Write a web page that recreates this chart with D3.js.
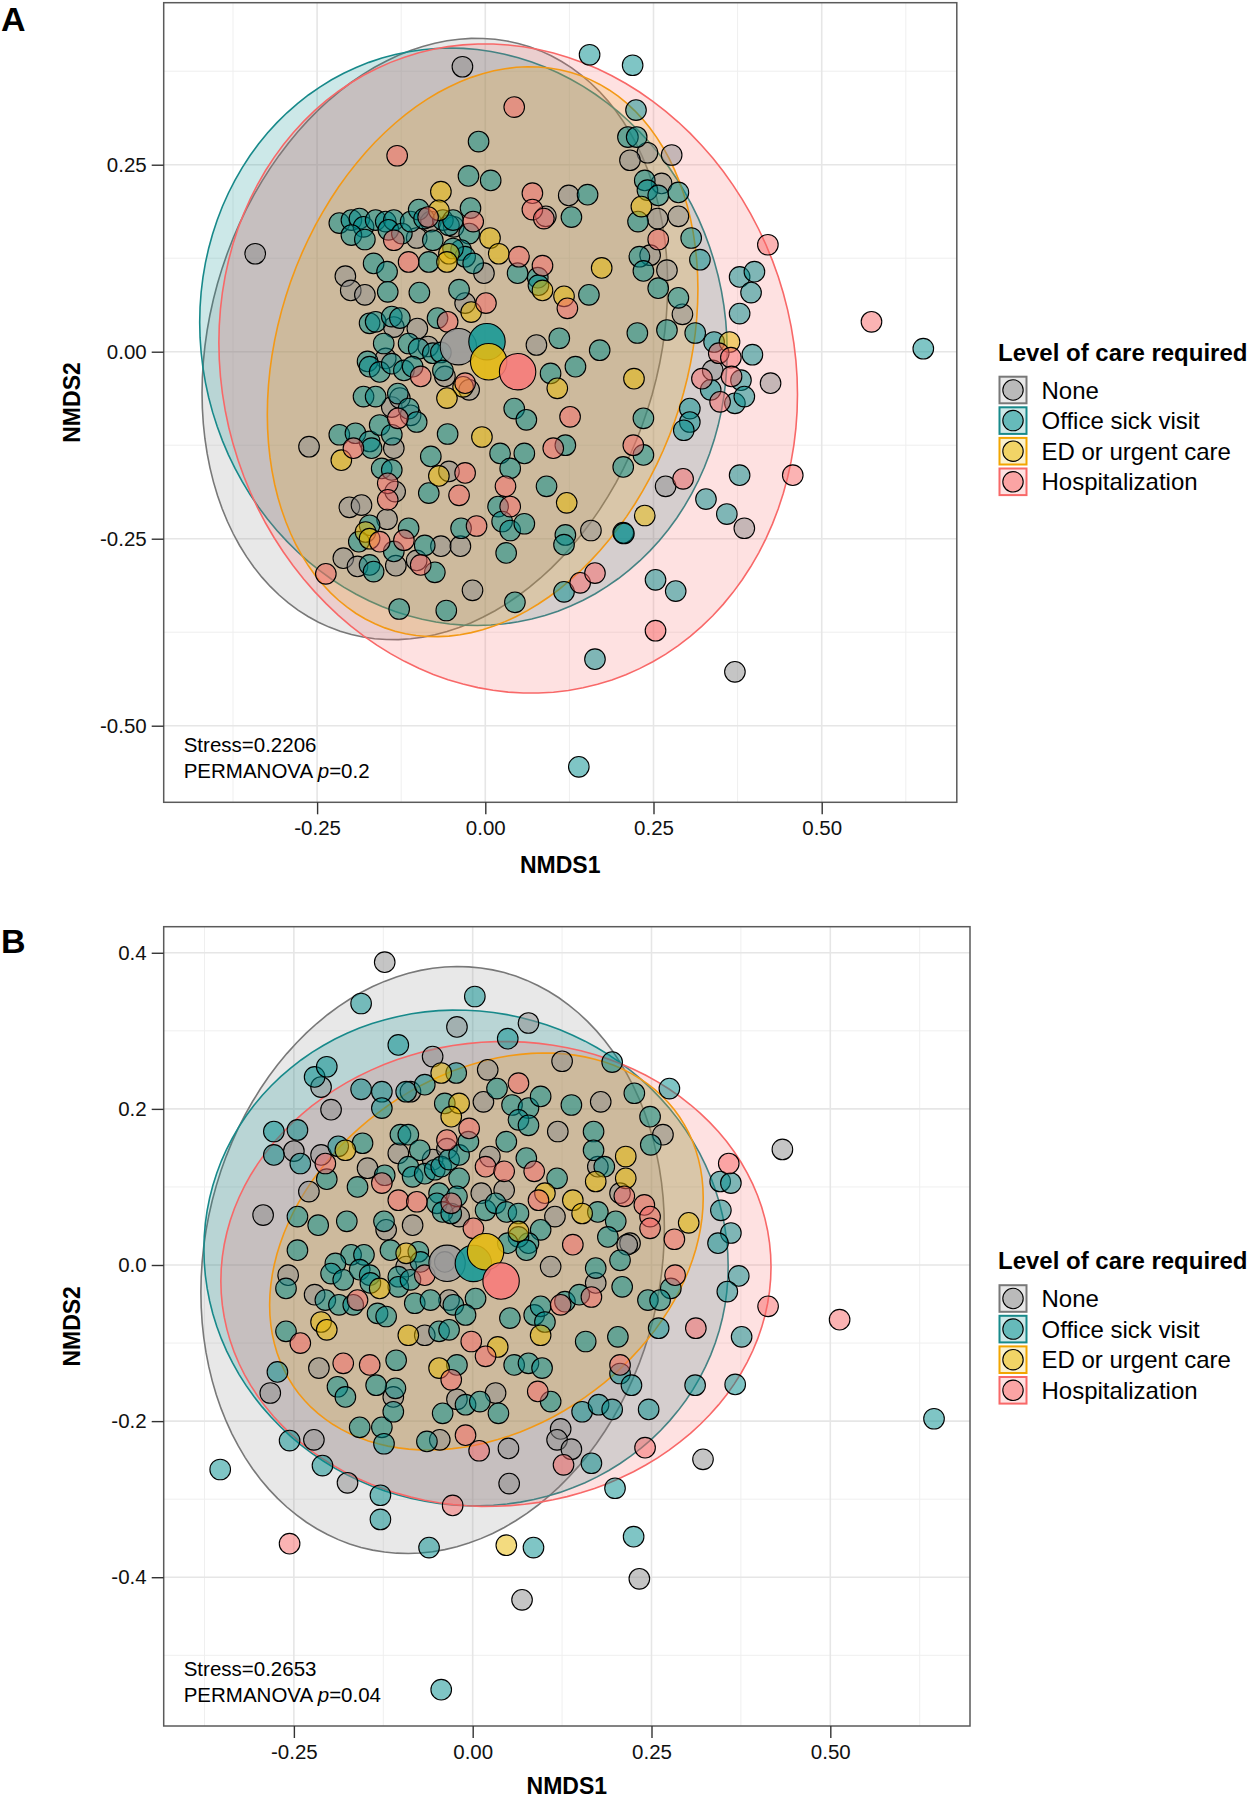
<!DOCTYPE html>
<html><head><meta charset="utf-8">
<script src="https://cdn.jsdelivr.net/npm/d3@7"></script>
<style>body{margin:0;background:#fff}svg{display:block}text{font-family:"Liberation Sans",Arial,Helvetica,sans-serif}</style>
</head><body><svg id="c" width="1254" height="1800"></svg>
<script>
// ---------- DATA ----------
const categories = ["None", "Office sick visit", "ED or urgent care", "Hospitalization"];
const legendTitle = "Level of care required";
const xTicks = [-0.25, 0, 0.25, 0.5];
const xTickLabels = ["-0.25", "0.00", "0.25", "0.50"];
const yTicksA = [-0.5, -0.25, 0, 0.25];
const yTickLabelsA = ["-0.50", "-0.25", "0.00", "0.25"];
const yTicksB = [-0.4, -0.2, 0, 0.2, 0.4];
const yTickLabelsB = ["-0.4", "-0.2", "0.0", "0.2", "0.4"];
const statsA = ["Stress=0.2206", "0.2"];
const statsB = ["Stress=0.2653", "0.04"];

// Panel A points [NMDS1, NMDS2]
const noneA = [[-0.034,0.381],[-0.342,0.131],[0.124,0.209],[0.090,0.181],[-0.102,0.152],[-0.081,0.174],[-0.047,0.167],[-0.002,0.105],[-0.208,0.101],[-0.200,0.082],[-0.179,0.076],[-0.030,0.065],[-0.136,0.033],[-0.101,0.031],[-0.148,-0.009],[-0.085,0.007],[-0.060,-0.033],[-0.024,-0.051],[0.076,0.009],[-0.139,-0.074],[-0.111,-0.085],[-0.127,-0.062],
[-0.262,-0.127],[-0.136,-0.129],[-0.054,-0.160],[-0.134,-0.187],[-0.202,-0.208],[-0.184,-0.205],[-0.146,-0.224],[-0.066,-0.260],[-0.037,-0.260],[0.157,-0.239],[-0.211,-0.276],[-0.190,-0.287],[-0.133,-0.286],[-0.102,-0.279],[-0.019,-0.319],
[0.241,0.266],[0.215,0.256],[0.277,0.263],[0.262,0.225],[0.256,0.178],[0.287,0.181],[0.245,0.129],[0.270,0.109],[0.293,0.050],[0.338,-0.025],[0.424,-0.042],[0.268,-0.180],[0.385,-0.236],[0.371,-0.428]];
const officeA = [[0.155,0.397],[0.219,0.383],[-0.010,0.281],[-0.025,0.235],[0.008,0.229],[0.152,0.210],[0.128,0.180],
[-0.217,0.172],[-0.199,0.176],[-0.187,0.178],[-0.181,0.167],[-0.199,0.156],[-0.179,0.150],[-0.163,0.176],[-0.148,0.174],[-0.136,0.176],[-0.144,0.163],[-0.124,0.158],[-0.111,0.174],[-0.099,0.190],[-0.091,0.178],[-0.063,0.176],[-0.054,0.169],[-0.048,0.176],[-0.022,0.192],[-0.024,0.158],[-0.078,0.149],[-0.036,0.136],[-0.030,0.127],[-0.048,0.138],[-0.084,0.120],[-0.018,0.118],[-0.166,0.118],[-0.146,0.107],[0.048,0.105],[0.078,0.099],[0.079,0.089],[-0.145,0.080],[-0.098,0.079],[-0.039,0.083],[0.154,0.076],[-0.172,0.038],[-0.163,0.040],[-0.139,0.047],[-0.127,0.045],[-0.071,0.045],[-0.151,0.011],[-0.114,0.011],[-0.099,0.004],[-0.078,-0.002],[-0.066,-0.001],[-0.175,-0.013],[-0.172,-0.020],[-0.157,-0.027],[-0.139,-0.016],[-0.121,-0.025],[-0.108,-0.020],[-0.063,-0.025],[0.110,0.018],[0.170,0.002],[0.134,-0.020],[0.097,-0.029],[-0.181,-0.060],[-0.163,-0.060],[-0.130,-0.056],[-0.114,-0.076],[-0.102,-0.094],[0.043,-0.076],[0.061,-0.091],
[-0.217,-0.111],[-0.193,-0.109],[-0.172,-0.120],[-0.169,-0.129],[-0.157,-0.098],[-0.139,-0.111],[-0.056,-0.110],[0.022,-0.136],[0.058,-0.136],[0.119,-0.125],[-0.081,-0.140],[-0.154,-0.156],[-0.139,-0.158],[-0.084,-0.189],[0.037,-0.156],[0.091,-0.180],[0.019,-0.207],[0.025,-0.227],[0.037,-0.239],[0.058,-0.230],[-0.036,-0.236],[-0.172,-0.232],[-0.188,-0.254],[-0.114,-0.236],[-0.090,-0.259],[0.031,-0.269],[0.119,-0.245],[0.117,-0.258],[0.205,-0.242],[-0.172,-0.285],[-0.166,-0.294],[-0.136,-0.267],[-0.075,-0.295],[0.044,-0.335],[0.117,-0.321],[-0.128,-0.344],[-0.058,-0.346],[0.163,-0.411],[0.139,-0.555],
[0.224,0.323],[0.212,0.287],[0.225,0.287],[0.237,0.229],[0.241,0.216],[0.257,0.209],[0.287,0.213],[0.227,0.174],[0.306,0.152],[0.319,0.123],[0.229,0.127],[0.235,0.108],[0.257,0.085],[0.287,0.072],[0.378,0.100],[0.400,0.107],[0.395,0.079],[0.378,0.051],[0.651,0.004],[0.226,0.025],[0.270,0.029],[0.312,0.025],[0.340,0.013],[0.397,-0.004],[0.380,-0.038],[0.335,-0.051],[0.371,-0.069],[0.385,-0.060],[0.235,-0.089],[0.304,-0.076],[0.304,-0.094],[0.295,-0.105],[0.235,-0.138],[0.205,-0.154],[0.378,-0.165],[0.328,-0.197],[0.206,-0.243],[0.359,-0.217],[0.253,-0.305],[0.283,-0.320]];
const edA = [[-0.066,0.214],[-0.069,0.189],[0.007,0.152],[0.020,0.131],[-0.054,0.131],[-0.057,0.120],[0.085,0.082],[0.173,0.112],[-0.021,0.053],[0.117,0.074],[-0.033,-0.047],[-0.057,-0.062],[0.107,-0.049],
[-0.214,-0.145],[-0.005,-0.114],[-0.069,-0.166],[0.121,-0.202],[-0.178,-0.241],[-0.172,-0.250],
[0.232,0.194],[0.363,0.013],[0.221,-0.036],[0.237,-0.219]];
const hospA = [[0.043,0.327],[-0.131,0.262],[0.070,0.212],[0.070,0.190],[0.087,0.178],[-0.136,0.149],[-0.085,0.180],[-0.018,0.174],[-0.114,0.120],[0.050,0.127],[0.085,0.115],[0.001,0.065],[0.122,0.058],[-0.056,0.040],[-0.096,-0.033],[-0.030,-0.042],[-0.130,-0.089],[0.126,-0.087],
[-0.196,-0.129],[-0.030,-0.162],[0.101,-0.129],[-0.145,-0.176],[-0.039,-0.192],[0.030,-0.180],[0.037,-0.207],[-0.145,-0.198],[-0.157,-0.254],[-0.121,-0.252],[-0.013,-0.233],[-0.096,-0.285],[-0.237,-0.297],[0.141,-0.309],[0.163,-0.296],
[0.257,0.150],[0.420,0.143],[0.574,0.040],[0.347,-0.002],[0.365,-0.008],[0.322,-0.036],[0.366,-0.033],[0.349,-0.067],[0.220,-0.125],[0.294,-0.170],[0.457,-0.165],[0.253,-0.373]];
const centroidsA = [[-0.040,0.0067],[0.0025,0.0134],[0.005,-0.0134],[0.048,-0.0267]];
// ellipse summaries: [centre x, centre y, half-width, half-height, correlation]
const ellipsesA = [[-0.075,0.017,0.346,0.402,0.18],[-0.0325,0.020,0.392,0.386,-0.05],[-0.004,0.000,0.320,0.381,0.22],[0.034,-0.0225,0.430,0.434,-0.08]];

// Panel B points
const noneB = [[-0.123,0.388],[-0.022,0.305],[0.078,0.310],[-0.056,0.267],[0.021,0.250],[0.125,0.261],[-0.212,0.228],[-0.087,0.222],[0.015,0.209],[0.179,0.209],[-0.198,0.199],[0.119,0.171],[-0.250,0.146],[-0.212,0.141],[-0.229,0.094],[-0.293,0.064],[-0.147,0.124],[-0.104,0.143],[-0.056,0.135],[-0.036,0.149],[0.024,0.139],[0.012,0.092],[0.044,0.096],[0.175,0.126],[0.206,0.092],[-0.121,0.045],[-0.084,0.051],[-0.019,0.062],[0.115,0.062],[0.220,0.028],[-0.039,0.004],[-0.093,-0.002],[-0.258,-0.013],[-0.221,-0.038],[0.109,-0.002],[0.172,-0.023],[-0.033,-0.045],[-0.067,-0.090],
[0.266,0.167],[0.433,0.148],[0.216,0.026],
[-0.283,-0.164],[-0.222,-0.224],[-0.175,-0.279],[-0.046,-0.224],[-0.111,-0.169],[0.032,-0.164],[0.050,-0.235],[0.051,-0.280],[0.123,-0.210],[0.118,-0.224],[0.138,-0.236],[-0.022,-0.172],[0.069,-0.429],[-0.215,-0.132],
[0.322,-0.249],[0.233,-0.402]];
const officeB = [[-0.156,0.335],[0.003,0.344],[-0.104,0.282],[0.049,0.290],[0.195,0.260],[-0.221,0.241],[-0.204,0.254],[-0.156,0.225],[-0.127,0.222],[-0.093,0.222],[-0.127,0.201],[-0.067,0.231],[-0.023,0.246],[-0.039,0.207],[0.034,0.226],[0.055,0.205],[0.078,0.201],[0.095,0.216],[0.064,0.186],[0.078,0.179],[0.138,0.205],[0.226,0.220],[-0.278,0.171],[-0.245,0.173],[-0.278,0.141],[-0.241,0.130],[-0.188,0.152],[-0.154,0.156],[-0.204,0.110],[-0.161,0.100],[-0.123,0.115],[-0.101,0.167],[-0.090,0.167],[-0.074,0.147],[-0.090,0.126],[-0.084,0.113],[-0.067,0.117],[-0.053,0.122],[-0.044,0.126],[-0.033,0.135],[-0.019,0.141],[-0.006,0.158],[-0.019,0.111],[0.047,0.158],[0.075,0.137],[0.118,0.111],[0.169,0.171],[0.169,0.147],[0.184,0.126],[-0.047,0.092],[-0.050,0.079],[-0.042,0.068],[-0.030,0.066],[-0.022,0.088],[0.018,0.070],[0.032,0.079],[0.047,0.068],[0.064,0.066],[0.095,0.045],[0.078,0.028],[0.064,0.036],[0.049,0.028],[0.075,0.019],[0.175,0.068],[0.200,0.056],[0.189,0.036],[-0.245,0.062],[-0.216,0.051],[-0.176,0.056],[-0.124,0.056],[-0.245,0.019],[-0.170,0.013],[-0.152,0.013],[-0.192,0.002],[-0.198,-0.011],[-0.181,-0.019],[-0.158,-0.006],[-0.144,-0.013],[-0.143,-0.023],[-0.115,0.019],[-0.076,0.017],[-0.073,0.004],[-0.104,-0.015],[-0.104,-0.028],[-0.087,-0.019],[-0.261,-0.030],[-0.206,-0.045],[-0.187,-0.051],[-0.167,-0.051],[-0.133,-0.062],[-0.121,-0.066],[-0.081,-0.049],[-0.059,-0.045],[-0.027,-0.051],[0.004,-0.043],[-0.010,-0.064],[0.052,-0.068],[0.086,-0.064],[0.095,-0.053],[0.101,-0.073],[0.129,-0.047],[0.149,-0.038],[0.172,-0.004],[0.206,0.006],[0.209,-0.028],[0.203,-0.092],[0.158,-0.098],[-0.261,-0.085],[-0.047,-0.085],[-0.033,-0.083],
[0.275,0.226],[0.248,0.190],[0.249,0.154],[0.346,0.107],[0.361,0.105],[0.347,0.070],[0.361,0.041],[0.343,0.028],[0.372,-0.014],[0.356,-0.034],[0.277,-0.030],[0.245,-0.045],[0.262,-0.045],[0.260,-0.081],[0.376,-0.092],
[-0.353,-0.262],[-0.256,-0.225],[-0.210,-0.257],[-0.129,-0.295],[-0.129,-0.326],[-0.061,-0.362],[0.085,-0.362],[-0.044,-0.544],[0.199,-0.286],[0.225,-0.348],[-0.158,-0.208],[-0.127,-0.208],[-0.124,-0.229],[-0.064,-0.226],[-0.042,-0.190],[-0.010,-0.179],[0.010,-0.175],[0.036,-0.190],[0.109,-0.175],[0.153,-0.188],[0.176,-0.179],[0.195,-0.185],[0.166,-0.254],[-0.273,-0.137],[-0.189,-0.156],[-0.178,-0.169],[-0.108,-0.158],[-0.111,-0.188],[-0.135,-0.154],[0.058,-0.128],[0.078,-0.126],[0.097,-0.132],[-0.022,-0.128],[-0.107,-0.122],[0.206,-0.139],
[0.311,-0.154],[0.367,-0.153],[0.246,-0.185],[0.222,-0.154],[0.645,-0.197]];
const edB = [[-0.044,0.246],[-0.019,0.207],[-0.030,0.190],[-0.178,0.147],[0.214,0.139],[0.214,0.111],[0.172,0.107],[0.101,0.092],[0.140,0.083],[0.153,0.066],[0.064,0.043],[-0.093,0.015],[-0.130,-0.030],[-0.212,-0.073],[-0.204,-0.083],[-0.090,-0.090],[0.095,-0.090],[0.035,-0.105],
[0.302,0.054],[0.047,-0.359],[-0.047,-0.132]];
const hospB = [[0.064,0.233],[-0.005,0.175],[-0.036,0.160],[-0.206,0.130],[-0.127,0.105],[-0.104,0.083],[-0.078,0.081],[0.018,0.126],[0.044,0.120],[0.086,0.120],[-0.030,0.079],[0.001,0.047],[0.092,0.083],[0.212,0.088],[0.140,0.026],[-0.067,-0.013],[-0.161,-0.045],[0.123,-0.051],[0.166,-0.041],[-0.241,-0.100],[-0.002,-0.098],
[0.358,0.130],[0.240,0.077],[0.248,0.062],[0.248,0.047],[0.282,0.033],[0.283,-0.013],[0.413,-0.053],[0.513,-0.070],[0.312,-0.081],
[-0.256,-0.357],[-0.028,-0.308],[0.009,-0.238],[-0.010,-0.218],[0.127,-0.256],[0.091,-0.162],[-0.030,-0.147],[-0.144,-0.128],[-0.181,-0.126],[0.206,-0.128],[0.018,-0.117],[0.241,-0.234]];
const centroidsB = [[-0.0358,0.0022],[0.001,0.002],[0.018,0.017],[0.0397,-0.0205]];
const ellipsesB = [[-0.056,0.0064,0.324,0.376,0.11],[-0.0093,0.009,0.3665,0.3176,-0.035],[0.0192,0.0173,0.3031,0.2543,0.27],[0.0325,-0.0115,0.3846,0.2978,0.03]];

// ---------- STYLE ----------
const pointFill = ["#8c8c8c", "#008B8B", "#E7B800", "#F86868"];
const lineCol = ["#787878", "#17898a", "#F2A500", "#F86868"];
const centroidFill = ["#9a9a9a", "#149896", "#E5BA10", "#F87A7A"];
const FONT = '"Liberation Sans", Arial, Helvetica, sans-serif';

const svg = d3.select("#c");

function drawPanel(cfg) {
  const x = d3.scaleLinear().domain(cfg.xDomain).range([cfg.left, cfg.right]);
  const y = d3.scaleLinear().domain(cfg.yDomain).range([cfg.bottom, cfg.top]);
  const g = svg.append("g");

  // grid
  const xs = cfg.xTicks, ys = cfg.yTicks;
  const dx = xs[1] - xs[0], dy = ys[1] - ys[0];
  const minorX = [xs[0] - dx / 2, ...xs.map(v => v + dx / 2)].filter(v => v > cfg.xDomain[0] && v < cfg.xDomain[1]);
  const minorY = [ys[0] - dy / 2, ...ys.map(v => v + dy / 2)].filter(v => v > cfg.yDomain[0] && v < cfg.yDomain[1]);
  g.selectAll(".mx").data(minorX).join("line").attr("x1", d => x(d)).attr("x2", d => x(d)).attr("y1", cfg.top).attr("y2", cfg.bottom).attr("stroke", "#efefef").attr("stroke-width", 1);
  g.selectAll(".my").data(minorY).join("line").attr("y1", d => y(d)).attr("y2", d => y(d)).attr("x1", cfg.left).attr("x2", cfg.right).attr("stroke", "#efefef").attr("stroke-width", 1);
  g.selectAll(".gx").data(xs).join("line").attr("x1", d => x(d)).attr("x2", d => x(d)).attr("y1", cfg.top).attr("y2", cfg.bottom).attr("stroke", "#e6e6e6").attr("stroke-width", 1.6);
  g.selectAll(".gy").data(ys).join("line").attr("y1", d => y(d)).attr("y2", d => y(d)).attr("x1", cfg.left).attr("x2", cfg.right).attr("stroke", "#e6e6e6").attr("stroke-width", 1.6);

  // ellipses
  const line = d3.line().x(d => x(d[0])).y(d => y(d[1])).curve(d3.curveLinearClosed);
  const angles = d3.range(0, 2 * Math.PI, Math.PI / 60);
  cfg.ellipses.forEach((e, i) => {
    const [cx, cy, hx, hy, r] = e;
    const pts = angles.map(t => [cx + hx * Math.cos(t), cy + hy * (r * Math.cos(t) + Math.sqrt(1 - r * r) * Math.sin(t))]);
    g.append("path").attr("d", line(pts)).attr("fill", pointFill[i]).attr("fill-opacity", 0.2)
      .attr("stroke", lineCol[i]).attr("stroke-width", 1.6);
  });

  // points
  cfg.points.forEach((arr, i) => {
    g.append("g").selectAll("circle").data(arr).join("circle")
      .attr("cx", d => x(d[0])).attr("cy", d => y(d[1])).attr("r", 10.3)
      .attr("fill", pointFill[i]).attr("fill-opacity", 0.5)
      .attr("stroke", "#000").attr("stroke-width", 1.1);
  });

  // centroids
  g.append("g").selectAll("circle").data(cfg.centroids).join("circle")
    .attr("cx", d => x(d[0])).attr("cy", d => y(d[1])).attr("r", 18.2)
    .attr("fill", (d, i) => centroidFill[i]).attr("fill-opacity", 0.88)
    .attr("stroke", "#000").attr("stroke-width", 1.1);

  // border
  g.append("rect").attr("x", cfg.left).attr("y", cfg.top).attr("width", cfg.right - cfg.left).attr("height", cfg.bottom - cfg.top)
    .attr("fill", "none").attr("stroke", "#5a5a5a").attr("stroke-width", 1.5);

  // axes
  const ax = g.append("g").attr("transform", `translate(0,${cfg.bottom})`)
    .call(d3.axisBottom(x).tickValues(xs).tickFormat((d, i) => cfg.xLabels[i]).tickSize(12).tickPadding(6));
  const ay = g.append("g").attr("transform", `translate(${cfg.left},0)`)
    .call(d3.axisLeft(y).tickValues(ys).tickFormat((d, i) => cfg.yLabels[i]).tickSize(12).tickPadding(5));
  [ax, ay].forEach(a => {
    a.select(".domain").remove();
    a.selectAll(".tick line").attr("stroke", "#333").attr("stroke-width", 1.4);
    a.selectAll(".tick text").attr("font-size", 20.5).attr("fill", "#111").attr("font-family", FONT);
  });

  // axis titles
  g.append("text").attr("x", (cfg.left + cfg.right) / 2).attr("y", cfg.xTitleY).attr("text-anchor", "middle")
    .attr("font-size", 23).attr("font-weight", "bold").text("NMDS1");
  g.append("text").attr("transform", `translate(80,${(cfg.top + cfg.bottom) / 2}) rotate(-90)`).attr("text-anchor", "middle")
    .attr("font-size", 23).attr("font-weight", "bold").text("NMDS2");

  // panel letter
  g.append("text").attr("x", 1).attr("y", cfg.letterY).attr("font-size", 34).attr("font-weight", "bold").text(cfg.letter);

  // stats text
  g.append("text").attr("x", cfg.left + 20).attr("y", cfg.statsY).attr("font-size", 20.5).text(cfg.stats[0]);
  const t2 = g.append("text").attr("x", cfg.left + 20).attr("y", cfg.statsY + 26).attr("font-size", 20.5);
  t2.append("tspan").text("PERMANOVA ");
  t2.append("tspan").attr("font-style", "italic").text("p");
  t2.append("tspan").text("=" + cfg.stats[1]);

  // legend
  const lg = g.append("g");
  lg.append("text").attr("x", 998).attr("y", cfg.legendY).attr("font-size", 24).attr("font-weight", "bold").text(legendTitle);
  categories.forEach((c, i) => {
    const cy = cfg.legendY + 29.5 + i * 30.6;
    lg.append("rect").attr("x", 999.5).attr("y", cy - 13.3).attr("width", 27).attr("height", 26.6)
      .attr("fill", pointFill[i]).attr("fill-opacity", 0.2).attr("stroke", lineCol[i]).attr("stroke-width", 2);
    lg.append("circle").attr("cx", 1013).attr("cy", cy).attr("r", 10.2)
      .attr("fill", pointFill[i]).attr("fill-opacity", 0.5).attr("stroke", "#000").attr("stroke-width", 1.1);
    lg.append("text").attr("x", 1041.5).attr("y", cy + 8.5).attr("font-size", 24).text(c);
  });
}

drawPanel({
  letter: "A", letterY: 31,
  left: 163.7, right: 956.8, top: 2.7, bottom: 802.3,
  xDomain: [-0.478, 0.7008], yDomain: [-0.6024, 0.4666],
  xTicks: xTicks, xLabels: xTickLabels, yTicks: yTicksA, yLabels: yTickLabelsA,
  ellipses: ellipsesA, points: [noneA, officeA, edA, hospA], centroids: centroidsA,
  xTitleY: 873, statsY: 752, stats: statsA, legendY: 360.5
});
drawPanel({
  letter: "B", letterY: 953,
  left: 163.7, right: 970, top: 926.7, bottom: 1726,
  xDomain: [-0.432, 0.6953], yDomain: [-0.5906, 0.4334],
  xTicks: xTicks, xLabels: xTickLabels, yTicks: yTicksB, yLabels: yTickLabelsB,
  ellipses: ellipsesB, points: [noneB, officeB, edB, hospB], centroids: centroidsB,
  xTitleY: 1794, statsY: 1676, stats: statsB, legendY: 1269
});
</script></body></html>
